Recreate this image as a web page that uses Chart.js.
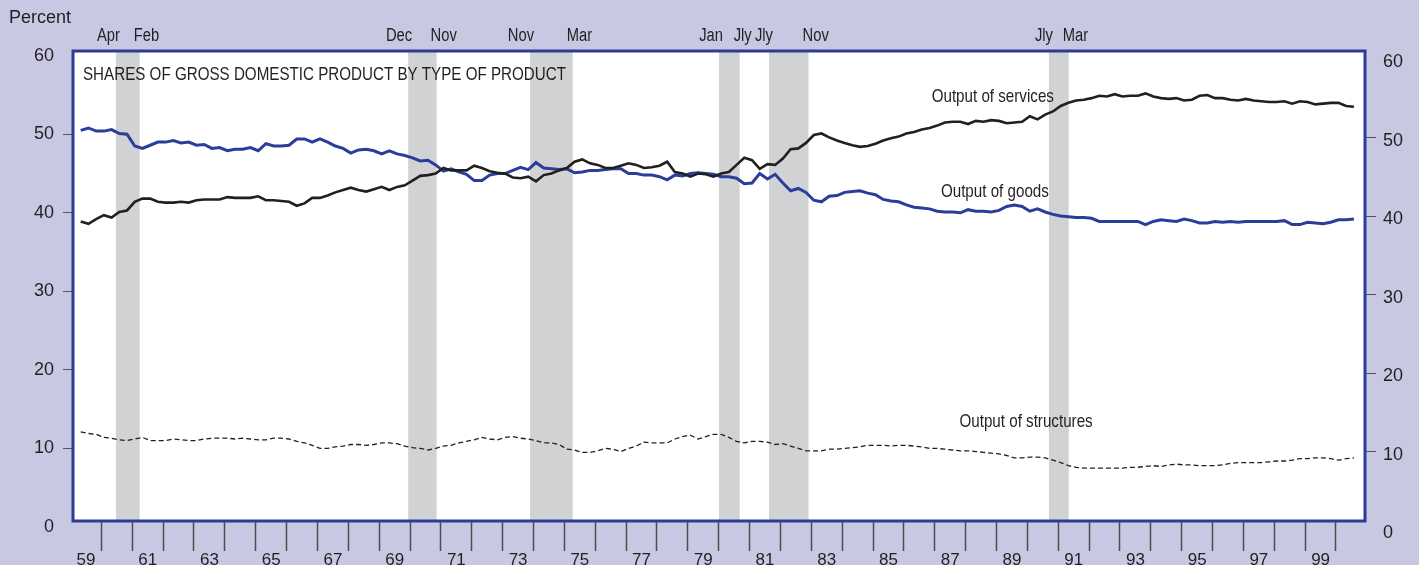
<!DOCTYPE html>
<html>
<head>
<meta charset="utf-8">
<script src="https://cdn.jsdelivr.net/npm/chart.js@4/dist/chart.umd.min.js"></script>
<style>
html, body { margin: 0; padding: 0; background: #c8c8e2; }
#wrap { width: 1419px; height: 565px; }
</style>
</head>
<body>
<div id="wrap"><canvas id="chart" width="1419" height="565"></canvas></div>
<script>
// quarterly shares of GDP, 1959Q1 - 2000Q2 (percent)
const firstYear = 1959;

const goods = [
  50.5, 50.8, 50.4, 50.4, 50.6, 50.1, 50.0, 48.5, 48.2, 48.6,
  49.0, 49.0, 49.2, 48.9, 49.0, 48.6, 48.7, 48.2, 48.3, 47.9,
  48.1, 48.1, 48.3, 47.9, 48.8, 48.5, 48.5, 48.6, 49.4, 49.4,
  49.0, 49.4, 49.0, 48.5, 48.2, 47.6, 48.0, 48.1, 47.9, 47.5,
  47.9, 47.5, 47.3, 47.0, 46.6, 46.7, 46.1, 45.3, 45.6, 45.2,
  44.9, 44.1, 44.1, 44.8, 45.0, 45.0, 45.4, 45.8, 45.5, 46.4,
  45.7, 45.6, 45.5, 45.6, 45.1, 45.2, 45.4, 45.4, 45.5, 45.6,
  45.6, 45.0, 45.0, 44.8, 44.8, 44.6, 44.2, 44.8, 44.7, 45.0,
  45.1, 45.0, 44.9, 44.6, 44.6, 44.4, 43.7, 43.8, 45.0, 44.3,
  44.9, 43.8, 42.8, 43.1, 42.6, 41.6, 41.4, 42.1, 42.2, 42.6,
  42.7, 42.8, 42.5, 42.3, 41.7, 41.5, 41.4, 41.0, 40.7, 40.6,
  40.5, 40.2, 40.1, 40.1, 40.0, 40.4, 40.2, 40.2, 40.1, 40.3,
  40.8, 41.0, 40.8, 40.2, 40.5, 40.1, 39.8, 39.6, 39.5, 39.4,
  39.4, 39.3, 38.9, 38.9, 38.9, 38.9, 38.9, 38.9, 38.5, 38.9,
  39.1, 39.0, 38.9, 39.2, 39.0, 38.7, 38.7, 38.9, 38.8, 38.9,
  38.8, 38.9, 38.9, 38.9, 38.9, 38.9, 39.0, 38.5, 38.5, 38.8,
  38.7, 38.6, 38.8, 39.1, 39.1, 39.2
];

const services = [
  38.9, 38.6, 39.2, 39.7, 39.4, 40.1, 40.3, 41.4, 41.8, 41.8,
  41.4, 41.3, 41.3, 41.4, 41.3, 41.6, 41.7, 41.7, 41.7, 42.0,
  41.9, 41.9, 41.9, 42.1, 41.6, 41.6, 41.5, 41.4, 40.9, 41.2,
  41.9, 41.9, 42.2, 42.6, 42.9, 43.2, 42.9, 42.7, 43.0, 43.3,
  42.9, 43.3, 43.5, 44.1, 44.7, 44.8, 45.0, 45.7, 45.4, 45.4,
  45.4, 46.0, 45.7, 45.3, 45.1, 45.0, 44.5, 44.4, 44.6, 44.0,
  44.8, 45.0, 45.4, 45.7, 46.5, 46.8, 46.3, 46.1, 45.7, 45.7,
  46.0, 46.3, 46.1, 45.7, 45.8, 46.0, 46.5, 45.2, 45.0, 44.6,
  45.0, 44.9, 44.6, 45.0, 45.2, 46.1, 47.0, 46.7, 45.6, 46.2,
  46.1, 46.9, 48.1, 48.2, 48.9, 49.9, 50.1, 49.6, 49.2, 48.9,
  48.6, 48.4, 48.5, 48.8, 49.2, 49.5, 49.7, 50.1, 50.3, 50.6,
  50.8, 51.1, 51.5, 51.6, 51.6, 51.3, 51.7, 51.6, 51.8, 51.7,
  51.4, 51.5, 51.6, 52.3, 51.9, 52.5, 52.9, 53.6, 54.0, 54.3,
  54.4, 54.6, 54.9, 54.8, 55.1, 54.8, 54.9, 54.9, 55.2, 54.8,
  54.6, 54.5, 54.6, 54.3, 54.4, 54.9, 55.0, 54.6, 54.6, 54.4,
  54.3, 54.5, 54.3, 54.2, 54.1, 54.1, 54.2, 53.9, 54.2, 54.1,
  53.8, 53.9, 54.0, 54.0, 53.6, 53.5
];

const structures = [
  12.1, 11.9, 11.8, 11.4, 11.3, 11.1, 11.0, 11.2, 11.4, 11.0,
  11.0, 11.0, 11.2, 11.1, 11.0, 11.0, 11.2, 11.3, 11.3, 11.3,
  11.2, 11.3, 11.2, 11.1, 11.1, 11.3, 11.3, 11.2, 10.9, 10.7,
  10.4, 10.0, 10.0, 10.2, 10.3, 10.5, 10.5, 10.4, 10.5, 10.7,
  10.7, 10.6, 10.3, 10.1, 10.0, 9.8, 10.0, 10.3, 10.4, 10.7,
  10.9, 11.1, 11.4, 11.2, 11.1, 11.4, 11.5, 11.3, 11.2, 11.0,
  10.7, 10.7, 10.5, 9.9, 9.8, 9.5, 9.5, 9.7, 10.0, 9.9,
  9.6, 10.0, 10.3, 10.8, 10.7, 10.7, 10.7, 11.2, 11.5, 11.7,
  11.2, 11.5, 11.8, 11.8, 11.4, 10.9, 10.7, 10.9, 10.9, 10.8,
  10.5, 10.6, 10.3, 10.0, 9.7, 9.7, 9.7, 9.9, 9.9, 10.0,
  10.1, 10.2, 10.4, 10.4, 10.4, 10.3, 10.4, 10.4, 10.3, 10.2,
  10.0, 10.0, 9.9, 9.8, 9.7, 9.7, 9.6, 9.5, 9.4, 9.3,
  9.1, 8.8, 8.8, 8.9, 8.9, 8.8, 8.5, 8.2, 7.8, 7.6,
  7.5, 7.5, 7.5, 7.5, 7.5, 7.5, 7.6, 7.6, 7.7, 7.8,
  7.7, 7.9, 8.0, 7.9, 7.9, 7.8, 7.8, 7.8, 7.9, 8.1,
  8.2, 8.2, 8.2, 8.2, 8.3, 8.4, 8.4, 8.5, 8.7, 8.7,
  8.8, 8.8, 8.7, 8.5, 8.7, 8.8
];

// recessions (decimal years) and the month names printed above them
const recessionStart = [1960.47, 1969.94, 1973.89, 1980.01, 1981.63, 1990.70];
const recessionEnd = [1961.24, 1970.86, 1975.27, 1980.68, 1982.91, 1991.34];
const startMonths = ['Apr', 'Dec', 'Nov', 'Jan', 'Jly', 'Jly'];
const endMonths = ['Feb', 'Nov', 'Mar', 'Jly', 'Nov', 'Mar'];

const yTicks = [0, 10, 20, 30, 40, 50, 60];
const yearTicks = [];
for (let yr = 1960; yr <= 2000; yr++) yearTicks.push(yr);

// quarter labels and their position on the time axis
const quarters = goods.map((v, i) => (firstYear + Math.floor(i / 4)) + 'Q' + (i % 4 + 1));
const quarterPos = q => +q.slice(0, 4) + (+q.slice(5) - 1) / 4 + 0.33;
const series = vals => vals.map((v, i) => ({ x: quarterPos(quarters[i]), y: v }));

const ink = '#231f20';
const regular = '"Liberation Sans", Arial, Helvetica, sans-serif';

// the original lettering is a condensed face, so squeeze it horizontally
function narrowText(ctx, text, x, y, align, size) {
  ctx.save();
  ctx.font = size + 'px ' + regular;
  ctx.textAlign = align;
  ctx.textBaseline = 'middle';
  ctx.translate(x, y);
  ctx.scale(0.82, 1);
  ctx.fillText(text, 0, 0);
  ctx.restore();
}

const backdrop = {
  id: 'backdrop',
  beforeDraw(chart) {
    const { ctx, chartArea: a, scales: { x } } = chart;
    ctx.save();
    ctx.fillStyle = '#ffffff';
    ctx.fillRect(a.left, a.top, a.right - a.left, a.bottom - a.top);
    ctx.fillStyle = '#d1d2d4';
    recessionStart.forEach((s, i) => {
      const x0 = x.getPixelForValue(s), x1 = x.getPixelForValue(recessionEnd[i]);
      ctx.fillRect(x0, a.top, x1 - x0, a.bottom - a.top);
    });
    ctx.restore();
  },
  afterDraw(chart) {
    const { ctx, chartArea: a, scales: { x, y } } = chart;
    ctx.save();
    ctx.strokeStyle = '#2e3b96';
    ctx.lineWidth = 3;
    ctx.strokeRect(a.left, a.top, a.right - a.left, a.bottom - a.top);

    ctx.fillStyle = ink;
    recessionStart.forEach((s, i) => {
      narrowText(ctx, startMonths[i], x.getPixelForValue(s) + 4, 36, 'right', 18);
      narrowText(ctx, endMonths[i], x.getPixelForValue(recessionEnd[i]) - 6, 36, 'left', 18);
    });

    ctx.textAlign = 'left';
    ctx.textBaseline = 'middle';
    ctx.font = '18px ' + regular;
    ctx.fillText('Percent', 9, 18);

    narrowText(ctx, 'SHARES OF GROSS DOMESTIC PRODUCT BY TYPE OF PRODUCT', a.left + 10, a.top + 23.5, 'left', 18.5);
    narrowText(ctx, 'Output of services', x.getPixelForValue(1986.9), y.getPixelForValue(54.7), 'left', 18.5);
    narrowText(ctx, 'Output of goods', x.getPixelForValue(1987.2), y.getPixelForValue(42.7), 'left', 18.5);
    narrowText(ctx, 'Output of structures', x.getPixelForValue(1987.8), y.getPixelForValue(13.4), 'left', 18.5);
    ctx.restore();
  }
};

const hideEnds = c => (c.tick && (c.tick.value === 0 || c.tick.value === 60)) ? 'rgba(0,0,0,0)' : '#555555';

new Chart(document.getElementById('chart'), {
  type: 'line',
  data: {
    datasets: [
      { label: 'Output of services', data: series(services), borderColor: ink, borderWidth: 2.6, pointRadius: 0, fill: false },
      { label: 'Output of goods', data: series(goods), borderColor: '#2a3d9b', borderWidth: 3, pointRadius: 0, fill: false },
      { label: 'Output of structures', data: series(structures), borderColor: ink, borderWidth: 1.3, borderDash: [5, 3], pointRadius: 0, fill: false }
    ]
  },
  options: {
    responsive: false,
    animation: false,
    devicePixelRatio: 1,
    layout: { padding: { top: 51, left: 0, right: 0, bottom: 0 } },
    plugins: { legend: { display: false }, tooltip: { enabled: false } },
    scales: {
      x: {
        type: 'linear',
        min: 1959.08,
        max: 2000.94,
        afterBuildTicks: s => { s.ticks = yearTicks.map(v => ({ value: v })); },
        afterFit: s => { s.height = 44; },
        border: { display: false },
        grid: { drawOnChartArea: false, drawTicks: true, tickLength: 30, tickColor: '#4d4d4d', tickWidth: 1.5 },
        ticks: {
          autoSkip: false, maxRotation: 0, minRotation: 0,
          labelOffset: -15.4, padding: -1,
          color: ink, font: { family: regular, size: 17 },
          callback: v => v % 2 === 0 ? String((v - 1) % 100).padStart(2, '0') : ''
        }
      },
      y: {
        position: 'left',
        min: 0.76,
        max: 60.6,
        afterBuildTicks: s => { s.ticks = yTicks.map(v => ({ value: v })); },
        afterFit: s => { s.width = 73; },
        border: { display: false },
        grid: { drawOnChartArea: false, tickLength: 10, tickColor: hideEnds, tickWidth: 1 },
        ticks: { padding: 9, color: ink, font: { family: regular, size: 18 } }
      },
      y2: {
        position: 'right',
        min: 1.18,
        max: 61.02,
        afterBuildTicks: s => { s.ticks = yTicks.map(v => ({ value: v })); },
        afterFit: s => { s.width = 54; },
        border: { display: false },
        grid: { drawOnChartArea: false, tickLength: 11, tickColor: hideEnds, tickWidth: 1 },
        ticks: { padding: 7, labelOffset: 3, color: ink, font: { family: regular, size: 18 } }
      }
    }
  },
  plugins: [backdrop]
});
</script>
</body>
</html>
